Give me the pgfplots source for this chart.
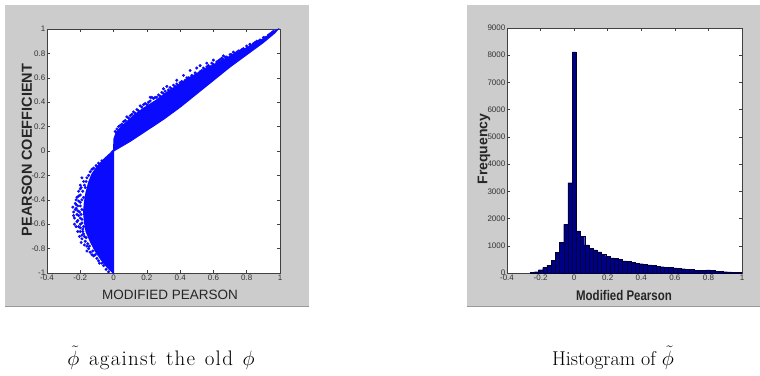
\documentclass[border=0pt]{standalone}
\usepackage{fontspec}
\usepackage{pgfplots}
\pgfplotsset{compat=1.18}
\newfontfamily\lsans{Liberation Sans}
\newfontfamily\lsansn[FakeStretch=0.82]{Liberation Sans}
\newfontfamily\capfont[LetterSpace=6]{Latin Modern Roman}
\definecolor{panelgray}{RGB}{204,204,204}
\definecolor{histblue}{RGB}{0,0,135}
\definecolor{scatblue}{RGB}{10,10,255}
\pgfplotsset{
  mlab/.style={
    scale only axis,
    tick align=inside,
    major tick length=3pt,
    axis line style={black!75, line width=0.5pt},
    tick style={black!75, line width=0.5pt},
    axis background/.style={fill=white},
    tick label style={font=\lsans\fontsize{8}{9}\selectfont, text=black!80},
    xticklabel style={inner sep=1pt, yshift=-1pt},
    yticklabel style={inner sep=1.5pt},
    xmin=-0.4, xmax=1,
    xtick={-0.4,-0.2,0,0.2,0.4,0.6,0.8,1},
    xticklabels={-0.4,-0.2,0,0.2,0.4,0.6,0.8,1},
  }
}
\begin{document}
\begin{tikzpicture}[x=1pt,y=1pt]
\useasboundingbox (0,0) rectangle (760,375);
\fill[panelgray] (5,68) rectangle (309,370);
\fill[panelgray] (467,68) rectangle (760,370);
\draw[black!40, line width=1.2pt] (5,68.6) -- (309,68.6);
\draw[black!40, line width=1.2pt] (467,68.6) -- (760,68.6);

% ---------------- left: scatter ----------------
\begin{axis}[mlab,
  at={(47pt,102pt)}, anchor=south west,
  width=233pt, height=244pt,
  ymin=-1, ymax=1,
  ytick={-1,-0.8,-0.6,-0.4,-0.2,0,0.2,0.4,0.6,0.8,1},
  yticklabels={-1,-0.8,-0.6,-0.4,-0.2,0,0.2,0.4,0.6,0.8,1},
]
% dense core of the upper branch
\addplot[fill=scatblue, draw=scatblue, line width=1.2pt] coordinates {
 (0,0) (0.003,0.10) (0.015,0.15) (0.04,0.19) (0.08,0.24) (0.12,0.29)
 (0.18,0.35) (0.25,0.41) (0.32,0.48) (0.42,0.57) (0.52,0.65) (0.62,0.72)
 (0.72,0.79) (0.82,0.86) (0.90,0.92) (0.97,0.985) (0.985,0.995)
 (0.97,0.97) (0.90,0.89) (0.80,0.79) (0.70,0.69) (0.60,0.58) (0.50,0.47)
 (0.40,0.36) (0.30,0.26) (0.20,0.17) (0.10,0.08) (0,0)
} -- cycle;
% dense core of the lower branch
\addplot[fill=scatblue, draw=scatblue, line width=1.2pt] coordinates {
 (0,0.01) (-0.02,-0.02) (-0.06,-0.07) (-0.10,-0.13) (-0.13,-0.19)
 (-0.15,-0.26) (-0.165,-0.34) (-0.175,-0.42) (-0.18,-0.50) (-0.175,-0.58)
 (-0.165,-0.66) (-0.14,-0.74) (-0.11,-0.82) (-0.075,-0.89) (-0.04,-0.95)
 (-0.01,-0.99) (0,-1) (0,0.01)
} -- cycle;
% scattered points along the edges
\addplot[only marks, color=scatblue, mark=*, mark size=1.3pt] coordinates {
 (0.02,0.18) (0.03,0.20) (0.05,0.22) (0.07,0.25) (0.09,0.27) (0.10,0.29)
 (0.13,0.31) (0.15,0.33) (0.17,0.36) (0.20,0.38) (0.22,0.41) (0.24,0.43)
 (0.26,0.44) (0.28,0.45) (0.30,0.47) (0.33,0.50) (0.35,0.51) (0.37,0.53)
 (0.40,0.56) (0.43,0.58) (0.45,0.60) (0.48,0.61) (0.50,0.63) (0.53,0.66)
 (0.55,0.67) (0.58,0.69) (0.60,0.71) (0.63,0.74) (0.66,0.75) (0.68,0.77)
 (0.71,0.79) (0.74,0.81) (0.77,0.83) (0.80,0.86) (0.84,0.88) (0.87,0.90)
 (0.90,0.93) (0.93,0.95) (0.95,0.97) (0.04,0.21) (0.11,0.30) (0.19,0.39)
 (0.27,0.46) (0.36,0.54) (0.46,0.60) (0.56,0.69) (0.65,0.76) (0.76,0.82)
 (0.86,0.90)
 (0.01,0.16) (0.06,0.24) (0.08,0.28) (0.12,0.32) (0.14,0.34) (0.16,0.37)
 (0.18,0.38) (0.21,0.40) (0.23,0.44) (0.25,0.44) (0.29,0.48) (0.31,0.49)
 (0.34,0.52) (0.38,0.55) (0.41,0.57) (0.44,0.60) (0.47,0.62) (0.49,0.64)
 (0.52,0.65) (0.54,0.68) (0.57,0.70) (0.59,0.72) (0.62,0.73) (0.64,0.75)
 (0.67,0.77) (0.70,0.79) (0.73,0.80) (0.75,0.82) (0.78,0.84) (0.82,0.87)
 (0.85,0.89) (0.88,0.91) (0.91,0.93) (0.94,0.96) (0.96,0.98)
 (0.22,0.44) (0.32,0.53) (0.42,0.62) (0.52,0.70) (0.60,0.745) (0.72,0.81)
 (0.82,0.875) (0.30,0.51) (0.38,0.58) (0.46,0.66) (0.50,0.68) (0.56,0.72)
 (0.66,0.78)
 (-0.19,-0.22) (-0.20,-0.28) (-0.21,-0.33) (-0.22,-0.38) (-0.20,-0.36)
 (-0.23,-0.43) (-0.245,-0.46) (-0.24,-0.50) (-0.225,-0.47) (-0.21,-0.41)
 (-0.235,-0.55) (-0.22,-0.58) (-0.235,-0.60) (-0.21,-0.62) (-0.20,-0.66)
 (-0.205,-0.70) (-0.19,-0.72) (-0.18,-0.68) (-0.195,-0.52) (-0.20,-0.45)
 (-0.16,-0.78) (-0.15,-0.80) (-0.14,-0.83) (-0.12,-0.86) (-0.10,-0.88)
 (-0.085,-0.92) (-0.06,-0.94) (-0.045,-0.97) (-0.03,-0.99) (-0.17,-0.30)
 (-0.16,-0.22) (-0.14,-0.17) (-0.12,-0.14) (-0.09,-0.10) (-0.07,-0.08)
 (-0.185,-0.64) (-0.19,-0.56) (-0.21,-0.53) (-0.17,-0.74) (-0.13,-0.85)
 (-0.20,-0.31) (-0.18,-0.25) (-0.225,-0.44) (-0.215,-0.49) (-0.20,-0.60)
 (-0.18,-0.62) (-0.165,-0.71)
 (-0.19,-0.40) (-0.20,-0.42) (-0.215,-0.45) (-0.19,-0.48) (-0.205,-0.50)
 (-0.22,-0.52) (-0.20,-0.55) (-0.215,-0.57) (-0.19,-0.59) (-0.20,-0.63)
 (-0.185,-0.66) (-0.19,-0.69) (-0.175,-0.70) (-0.18,-0.38) (-0.185,-0.33)
 (-0.175,-0.28) (-0.165,-0.25) (-0.15,-0.20) (-0.13,-0.15) (-0.105,-0.12)
 (-0.155,-0.76) (-0.145,-0.78) (-0.125,-0.82) (-0.11,-0.85) (-0.09,-0.90)
 (-0.07,-0.92) (-0.23,-0.48) (-0.24,-0.53) (-0.225,-0.62) (-0.215,-0.66)
 (-0.195,-0.75) (-0.175,-0.77) (-0.16,-0.82) (-0.225,-0.40) (-0.21,-0.37)
 (-0.195,-0.30)
};
\end{axis}

% ---------------- right: histogram ----------------
\begin{axis}[mlab,
  at={(507pt,102pt)}, anchor=south west,
  width=235pt, height=245pt,
  ymin=0, ymax=9000,
  scaled y ticks=false,
  ytick={0,1000,2000,3000,4000,5000,6000,7000,8000,9000},
  yticklabels={0,1000,2000,3000,4000,5000,6000,7000,8000,9000},
]
\addplot[ybar, bar width=0.025, bar shift=0pt, fill=histblue, draw=black!60!histblue, line width=0.2pt] coordinates {
 (-0.25,15) (-0.225,50) (-0.2,120) (-0.175,210) (-0.15,290) (-0.125,470)
 (-0.1,750) (-0.075,1120) (-0.05,1790) (-0.025,3320) (0,8120) (0.025,1550)
 (0.05,1350) (0.075,1030) (0.1,900) (0.125,850) (0.15,780) (0.175,690)
 (0.2,610) (0.225,560) (0.25,530) (0.275,500) (0.3,450) (0.325,420)
 (0.35,390) (0.375,365) (0.4,345) (0.425,315) (0.45,295) (0.475,275)
 (0.5,255) (0.525,235) (0.55,215) (0.575,200) (0.6,185) (0.625,170)
 (0.65,160) (0.675,145) (0.7,130) (0.725,110) (0.75,95) (0.775,100)
 (0.8,115) (0.825,90) (0.85,65) (0.875,55) (0.9,50) (0.925,45)
 (0.95,35) (0.975,25) (1.0,15)
};
\end{axis}

% axis labels
\node[font=\lsans\fontsize{13.5}{15}\selectfont, text=black!85] at (170,80) {MODIFIED PEARSON};
\node[font=\lsans\bfseries\fontsize{14.5}{16}\selectfont, text=black!85, rotate=90] at (27,225) {PEARSON COEFFICIENT};
\node[font=\lsansn\bfseries\fontsize{14}{16}\selectfont, text=black!85] at (624,80) {Modified Pearson};
\node[font=\lsans\bfseries\fontsize{14}{16}\selectfont, text=black!85, rotate=90] at (484,226) {Frequency};

% captions
\node[anchor=base, font=\capfont\fontsize{21}{24}\selectfont] at (161,10) {$\tilde{\phi}$\hspace{2pt} against\hspace{2pt} the\hspace{2pt} old\hspace{2pt} $\phi$};
\node[anchor=base, font=\fontsize{20}{24}\selectfont] at (613,10) {Histogram of $\tilde{\phi}$};
\end{tikzpicture}
\end{document}
